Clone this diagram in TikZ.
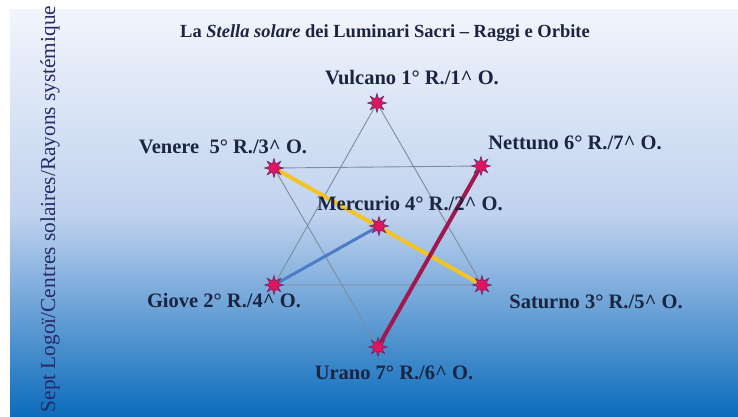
\documentclass[tikz,border=0pt]{standalone}
\usepackage{fontspec}
\setmainfont{Liberation Serif}
\usepackage{tikz}
\usepackage{xcolor}
\usetikzlibrary{shapes.geometric, positioning, backgrounds}
\definecolor{SkyTop}{HTML}{F2F5FC}
\definecolor{SkyMid}{HTML}{BFD2EE}
\definecolor{SkyBottom}{HTML}{0C6CBC}
\definecolor{InkNavy}{HTML}{1B2440}
\definecolor{SideNavy}{HTML}{262A66}
\definecolor{StarMagenta}{HTML}{E3145E}
\definecolor{StarPurple}{HTML}{6A2A6E}
\definecolor{HexGray}{HTML}{7E8C9C}
\definecolor{RayGold}{HTML}{F6C324}
\definecolor{RayBlue}{HTML}{4D7CC4}
\definecolor{RayMaroon}{HTML}{A0184E}
\tikzset{
    % Star nodes
    starnode/.style={
        star,
        star points=8,
        star point ratio=2.2,
        minimum size=19pt,
        inner sep=0pt,
        fill=StarMagenta,
        draw=StarPurple,
        line width=0.6pt
    },
    % Text styles
    planetlabel/.style={
        inner sep=0pt,
        text=InkNavy,
        font=\fontsize{20.5}{24}\selectfont\bfseries
    },
    titletext/.style={
        inner sep=0pt,
        text=InkNavy,
        font=\fontsize{18.5}{22}\selectfont\bfseries
    },
    sidetext/.style={
        inner sep=0pt,
        rotate=90,
        text=SideNavy,
        font=\fontsize{21.3}{25}\selectfont
    },
    % Line styles
    hexline/.style={
        draw=HexGray,
        line width=0.9pt
    },
    rayline/.style={
        line width=4pt
    }
}

\begin{document}
\begin{tikzpicture}[x=1pt,y=-1pt]
    \useasboundingbox (0,0) rectangle (738,416);

    % Background
    \begin{pgfonlayer}{background}
        \fill[white] (0,0) rectangle (738,416);
        \shade[top color=SkyTop, bottom color=SkyMid] (10,9) rectangle (738,215);
        \shade[top color=SkyMid, bottom color=SkyBottom] (10,215) rectangle (738,416);
    \end{pgfonlayer}

    % Side caption
    \node[sidetext] (side) at (50,209) {Sept Logoï/Centres solaires/Rayons systémique};

    % Title
    \node[titletext] (title) at (385,33) {La \textit{Stella solare} dei Luminari Sacri – Raggi e Orbite};

    % Stars
    \node[starnode] (vulcano) at (377,103) {};
    \node[starnode] (venere) at (274,168) {};
    \node[starnode] (nettuno) at (481,166) {};
    \node[starnode] (mercurio) at (379,226) {};
    \node[starnode] (giove) at (274,285) {};
    \node[starnode] (saturno) at (482,285) {};
    \node[starnode] (urano) at (378,347) {};

    % Lines
    \begin{pgfonlayer}{background}
        \draw[hexline] (vulcano.center) -- (giove.center) -- (saturno.center) -- cycle;
        \draw[hexline] (venere.center) -- (nettuno.center) -- (urano.center) -- cycle;
        \draw[rayline,RayGold] (venere.center) -- (saturno.center);
        \draw[rayline,RayBlue,line width=3pt] (giove.center) -- (mercurio.center);
        \draw[rayline,RayMaroon] (urano.center) -- (nettuno.center);
    \end{pgfonlayer}

    % Labels
    \node[planetlabel] (lblvulcano) at (412,78) {Vulcano 1° R./1\^{} O.};
    \node[planetlabel] (lblvenere) at (223,147) {Venere~~5° R./3\^{} O.};
    \node[planetlabel] (lblnettuno) at (575,143) {Nettuno 6° R./7\^{} O.};
    \node[planetlabel] (lblmercurio) at (410,204) {Mercurio 4° R./2\^{} O.};
    \node[planetlabel] (lblgiove) at (224,301) {Giove 2° R./4\^{} O.};
    \node[planetlabel] (lblsaturno) at (596,302) {Saturno 3° R./5\^{} O.};
    \node[planetlabel] (lblurano) at (394,373) {Urano 7° R./6\^{} O.};
\end{tikzpicture}
\end{document}
